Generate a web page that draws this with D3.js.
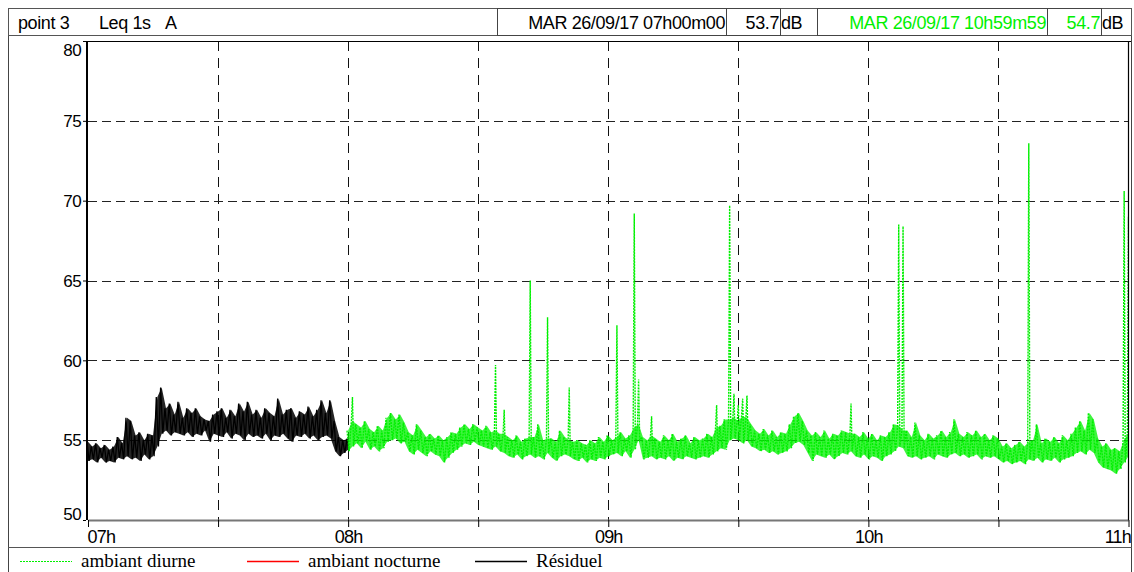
<!DOCTYPE html>
<html>
<head>
<meta charset="utf-8">
<script src="https://cdn.jsdelivr.net/npm/d3@7"></script>
<style>
body { margin: 0; background: #fff; }
svg text { font-family: Arial, "Liberation Sans", sans-serif; }
.legend text { font-family: "Times New Roman", "Liberation Serif", serif; font-size: 19px; }
</style>
</head>
<body>
<script>
var start = new Date(2017, 8, 26, 7, 0, 0);
var yTicks = [50, 55, 60, 65, 70, 75, 80];
var hourLabels = ["07h", "08h", "09h", "10h", "11h"];
var headerLeft = ["point 3", "Leq 1s", "A"];
var startStamp = "MAR 26/09/17 07h00m00", startValue = "53.7";
var endStamp = "MAR 26/09/17 10h59m59", endValue = "54.7";
var legendLabels = ["ambiant diurne", "ambiant nocturne", "Résiduel"];

// Résiduel, per minute from 07h00 (max / min of the 1s Leq within each minute)
var residuelMax = [54.9,54.6,54.8,54.5,54.7,54.4,54.6,55.2,54.8,56.4,
  56.2,55.3,55.5,55.0,55.4,55.3,57.7,58.3,57.0,57.3,
  56.6,57.4,56.4,57.0,56.7,57.0,56.5,56.3,56.2,56.6,
  56.8,57.0,56.4,56.9,56.5,57.3,56.8,57.4,56.6,56.9,
  56.4,57.0,56.7,56.5,57.6,56.6,56.9,57.0,56.4,56.8,
  56.6,57.1,56.5,56.9,57.5,56.7,57.5,56.2,55.2,55.0,
  55.1];
var residuelMin = [53.7,53.8,53.6,53.9,53.6,53.7,53.6,53.9,53.8,54.0,
  53.8,53.9,53.7,54.1,53.8,54.0,54.6,55.4,55.6,55.3,
  55.5,55.4,55.3,55.5,55.2,55.4,55.3,55.6,54.9,55.4,
  55.3,55.2,55.5,55.1,55.4,55.3,55.0,55.4,55.2,55.3,
  55.1,55.4,55.0,55.3,55.2,55.4,55.1,54.9,55.3,55.2,
  55.4,55.1,55.3,55.0,55.2,55.3,55.1,54.3,54.0,54.2,
  54.4];

// ambiant diurne, per minute from 08h00 (band only, short events listed apart)
var diurneFirst = 60;
var diurneMax = [55.6,56.2,56.0,55.8,56.2,55.7,55.5,55.9,55.6,56.4,
  56.7,56.3,56.6,56.1,55.5,55.3,56.0,55.6,55.2,55.4,
  55.1,55.3,55.0,55.2,55.5,55.4,55.8,56.0,55.7,56.0,
  55.8,55.6,55.9,55.5,55.6,55.4,55.4,55.2,55.0,55.3,
  54.9,55.1,55.2,55.2,56.0,55.0,55.1,55.1,54.9,55.6,
  55.2,55.0,54.9,55.0,54.8,54.7,55.0,54.8,55.2,54.9,
  55.3,55.0,55.2,55.5,55.1,55.3,55.8,56.0,55.2,55.0,
  55.3,55.1,54.9,55.3,55.0,55.4,54.9,55.1,55.3,54.8,
  55.2,55.0,55.1,55.4,55.2,55.8,55.9,56.3,56.3,56.4,
  56.2,56.5,56.4,56.0,55.6,55.4,55.7,55.3,55.6,55.2,
  55.5,55.4,56.0,56.5,56.7,56.2,55.6,55.3,55.5,55.2,
  55.6,55.1,55.4,55.3,55.6,55.5,55.4,55.4,55.2,55.5,
  55.1,55.4,55.0,55.3,55.2,55.5,56.0,55.9,55.6,55.6,
  55.2,56.1,55.3,55.0,55.4,55.1,55.3,55.6,55.2,55.5,
  56.3,55.4,55.2,55.5,55.3,55.6,55.2,55.4,55.0,55.3,
  55.1,54.6,54.8,54.5,54.7,54.9,54.6,54.9,55.0,56.0,
  54.8,55.1,54.9,55.2,54.8,55.3,55.0,55.4,55.8,56.2,
  55.6,56.7,56.3,55.1,54.6,54.8,54.4,54.5,54.3,55.0,
  55.5];
var diurneMin = [54.3,54.6,54.8,54.5,54.9,54.4,54.6,54.3,54.5,54.9,
  55.0,55.1,54.8,54.9,54.3,54.1,54.4,54.2,54.0,54.3,
  54.1,54.0,53.6,53.9,54.2,54.4,54.6,54.8,54.7,54.9,
  54.7,54.6,54.5,54.4,54.6,54.3,54.2,54.0,53.9,54.1,
  53.8,54.0,54.1,53.9,54.0,53.8,54.2,53.9,53.7,54.0,
  54.1,54.0,53.8,53.7,53.9,53.6,53.8,53.7,53.9,53.8,
  54.0,54.1,54.2,54.0,54.3,53.9,54.4,55.0,53.8,53.9,
  54.0,53.8,53.9,53.8,54.0,53.7,53.9,53.8,54.0,53.9,
  53.8,53.9,54.0,53.9,54.1,54.3,54.5,54.4,55.0,55.1,
  55.0,54.8,55.0,54.6,54.5,54.3,54.4,54.2,54.3,54.1,
  54.2,54.3,54.5,54.8,54.9,54.7,54.2,53.7,54.1,54.0,
  53.9,54.1,53.8,54.0,54.2,54.1,54.3,54.0,53.9,54.1,
  53.8,54.0,53.9,53.7,54.0,54.1,54.3,54.6,54.5,54.0,
  53.9,54.0,53.8,53.9,54.0,53.8,54.1,54.0,53.9,54.1,
  54.2,54.0,54.1,53.9,54.0,54.1,53.8,54.0,53.9,54.0,
  53.8,53.6,53.7,53.5,53.6,53.7,53.5,53.8,53.7,53.9,
  53.6,53.8,53.7,53.9,53.6,53.8,53.9,54.0,54.2,54.3,
  54.1,54.4,54.2,53.6,53.3,53.2,53.1,52.9,53.2,53.6,
  54.0];
// short events: [minute from 07h00, peak dB]
var diurneSpikes = [[61, 57.7], [94, 59.7], [96, 56.9], [102, 65.0], [106, 62.7], [111, 58.3],
  [122, 62.2], [126, 69.2], [127, 58.8], [130, 56.5], [145, 57.2], [148, 69.7], [149, 57.9],
  [150, 57.2], [151, 57.6], [152, 57.8], [176, 57.3], [187, 68.5], [188, 68.4], [217, 73.6],
  [239, 70.6], [240, 69.0]];

var W = 1134, H = 572;
var plotL = 88, plotR = 1128.5, plotT = 41, plotB = 520;
var green = "#00f000";

var svg = d3.select("body").append("svg")
    .attr("width", W)
    .attr("height", H);

var end = new Date(start.getTime() + 4 * 3600000);
var x = d3.scaleTime().domain([start, end]).range([plotL, plotR]);
var y = d3.scaleLinear().domain([50, 80]).range([plotB, plotT]);

function at(min) { return new Date(start.getTime() + min * 60000); }

svg.append("clipPath").attr("id", "plot")
    .append("rect")
    .attr("x", plotL).attr("y", plotT)
    .attr("width", plotR - plotL).attr("height", plotB - plotT);

// grid
var halfHours = d3.range(0, 241, 30).map(at);
svg.append("g").selectAll("line")
    .data(halfHours.slice(1, -1))
    .enter().append("line")
    .attr("x1", function (d) { return Math.round(x(d)) + 0.5; })
    .attr("x2", function (d) { return Math.round(x(d)) + 0.5; })
    .attr("y1", plotT).attr("y2", plotB)
    .attr("stroke", "#111").attr("stroke-dasharray", "10,7");

svg.append("g").selectAll("line")
    .data(yTicks.slice(1, -1))
    .enter().append("line")
    .attr("x1", plotL).attr("x2", plotR)
    .attr("y1", function (d) { return Math.round(y(d)) + 0.5; })
    .attr("y2", function (d) { return Math.round(y(d)) + 0.5; })
    .attr("stroke", "#222").attr("stroke-dasharray", "9,5");

// traces: band between per-minute min and max, then a max/min zigzag with the short events
function band(maxs, mins, first) {
    return maxs.map(function (v, i) { return {t: first + i, hi: v, lo: mins[i]}; });
}

function zigzag(maxs, mins, first, spikes) {
    var peaks = new Map(spikes || []);
    var pts = [];
    maxs.forEach(function (v, i) {
        var m = first + i;
        pts.push({t: m - 0.25, v: v});
        if (peaks.has(m)) pts.push({t: m, v: peaks.get(m)});
        pts.push({t: m + 0.25, v: mins[i]});
    });
    return pts;
}

var area = d3.area()
    .x(function (d) { return x(at(d.t)); })
    .y0(function (d) { return y(d.lo); })
    .y1(function (d) { return y(d.hi); });

var line = d3.line()
    .x(function (d) { return x(at(d.t)); })
    .y(function (d) { return y(d.v); });

var traces = svg.append("g").attr("clip-path", "url(#plot)");

traces.append("path")
    .datum(band(residuelMax, residuelMin, 0))
    .attr("fill", "#000")
    .attr("fill-opacity", 0.85)
    .attr("d", area);

traces.append("path")
    .datum(zigzag(residuelMax, residuelMin, 0))
    .attr("fill", "none")
    .attr("stroke", "#000")
    .attr("stroke-width", 1.3)
    .attr("d", line);

traces.append("path")
    .datum(band(diurneMax, diurneMin, diurneFirst))
    .attr("fill", green)
    .attr("fill-opacity", 0.75)
    .attr("d", area);

traces.append("path")
    .datum(zigzag(diurneMax, diurneMin, diurneFirst, diurneSpikes))
    .attr("fill", "none")
    .attr("stroke", green)
    .attr("stroke-width", 1.4)
    .attr("stroke-dasharray", "2,1")
    .attr("d", line);

// axes
var xAxis = svg.append("g")
    .attr("transform", "translate(0," + plotB + ")")
    .call(d3.axisBottom(x).tickValues(halfHours).tickSize(7).tickSizeOuter(0)
        .tickFormat(function (d) { return d.getMinutes() === 0 ? hourLabels[d.getHours() - 7] : ""; }));
xAxis.select(".domain").attr("stroke", "#777").attr("stroke-width", 2);
xAxis.selectAll(".tick line").attr("stroke", "#000");
xAxis.selectAll(".tick text")
    .attr("y", 10)
    .attr("font-size", 18)
    .attr("letter-spacing", -0.8)
    .attr("fill", "#000")
    .attr("text-anchor", function (d, i, n) { return i === 0 ? "start" : (i === n.length - 1 ? "end" : "middle"); })
    .attr("dx", function (d, i, n) { return i === 0 ? -1 : (i === n.length - 1 ? 2 : 0); });

var yAxis = svg.append("g")
    .attr("transform", "translate(" + (plotL - 2) + ",0)")
    .call(d3.axisLeft(y).tickValues(yTicks).tickSize(3).tickPadding(2));
yAxis.select(".domain").remove();
yAxis.selectAll(".tick line").attr("stroke", "#000");
yAxis.selectAll(".tick text")
    .attr("font-size", 17)
    .attr("letter-spacing", -0.6)
    .attr("fill", "#000")
    .attr("dy", function (d) { return d === 80 ? "0.85em" : (d === 50 ? "-0.05em" : "0.34em"); });

// frame
var frame = svg.append("g").attr("fill", "none").attr("stroke", "#000");
frame.append("line").attr("x1", 8.5).attr("x2", 8.5).attr("y1", 8).attr("y2", H).attr("stroke", "#444");
frame.append("line").attr("x1", 1131.5).attr("x2", 1131.5).attr("y1", 8).attr("y2", H).attr("stroke", "#444");
frame.append("line").attr("x1", plotL - 1).attr("x2", 1131).attr("y1", plotT + 0.5).attr("y2", plotT + 0.5);
frame.append("line").attr("x1", plotL - 1).attr("x2", plotL - 1).attr("y1", plotT).attr("y2", plotB).attr("stroke-width", 2);
frame.append("line").attr("x1", plotR).attr("x2", plotR).attr("y1", plotT).attr("y2", plotB).attr("stroke-width", 1.2);
frame.append("line").attr("x1", 8).attr("x2", 1132).attr("y1", 547.5).attr("y2", 547.5).attr("stroke", "#555");

// header
var header = svg.append("g");
header.append("rect").attr("x", 8.5).attr("y", 8.5).attr("width", 1123).attr("height", 27)
    .attr("fill", "none").attr("stroke", "#555");
[[497.5, 726.5], [726.5, 780.5], [817.5, 1047.5], [1047.5, 1101.5]].forEach(function (b) {
    header.append("rect").attr("x", b[0]).attr("y", 8.5).attr("width", b[1] - b[0]).attr("height", 27)
        .attr("fill", "none").attr("stroke", "#444");
});
var hx = [18, 99, 165];
headerLeft.forEach(function (t, i) {
    header.append("text").attr("x", hx[i]).attr("y", 29).attr("font-size", 18).attr("letter-spacing", -0.4).text(t);
});
header.append("text").attr("x", 725).attr("y", 29).attr("font-size", 18).attr("letter-spacing", -0.4)
    .attr("text-anchor", "end").text(startStamp);
header.append("text").attr("x", 779).attr("y", 29).attr("font-size", 18).attr("letter-spacing", -0.4)
    .attr("text-anchor", "end").text(startValue);
header.append("text").attr("x", 781).attr("y", 29).attr("font-size", 18).attr("letter-spacing", -0.4).text("dB");
header.append("text").attr("x", 1046).attr("y", 29).attr("font-size", 18).attr("letter-spacing", -0.4)
    .attr("text-anchor", "end").attr("fill", green).text(endStamp);
header.append("text").attr("x", 1100).attr("y", 29).attr("font-size", 18).attr("letter-spacing", -0.4)
    .attr("text-anchor", "end").attr("fill", green).text(endValue);
header.append("text").attr("x", 1102).attr("y", 29).attr("font-size", 18).attr("letter-spacing", -0.4).text("dB");

// legend
var legendX = [20, 247, 475];
var legendStyle = [{c: green, d: "2,1"}, {c: "#f00", d: null}, {c: "#000", d: null}];
var legend = svg.append("g").attr("class", "legend");
legendLabels.forEach(function (t, i) {
    legend.append("line")
        .attr("x1", legendX[i]).attr("x2", legendX[i] + 52)
        .attr("y1", 561.5).attr("y2", 561.5)
        .attr("stroke", legendStyle[i].c)
        .attr("stroke-width", i === 0 ? 1.2 : 1.5)
        .attr("stroke-dasharray", legendStyle[i].d);
    legend.append("text").attr("x", legendX[i] + 61).attr("y", 567).text(t);
});
</script>
</body>
</html>
